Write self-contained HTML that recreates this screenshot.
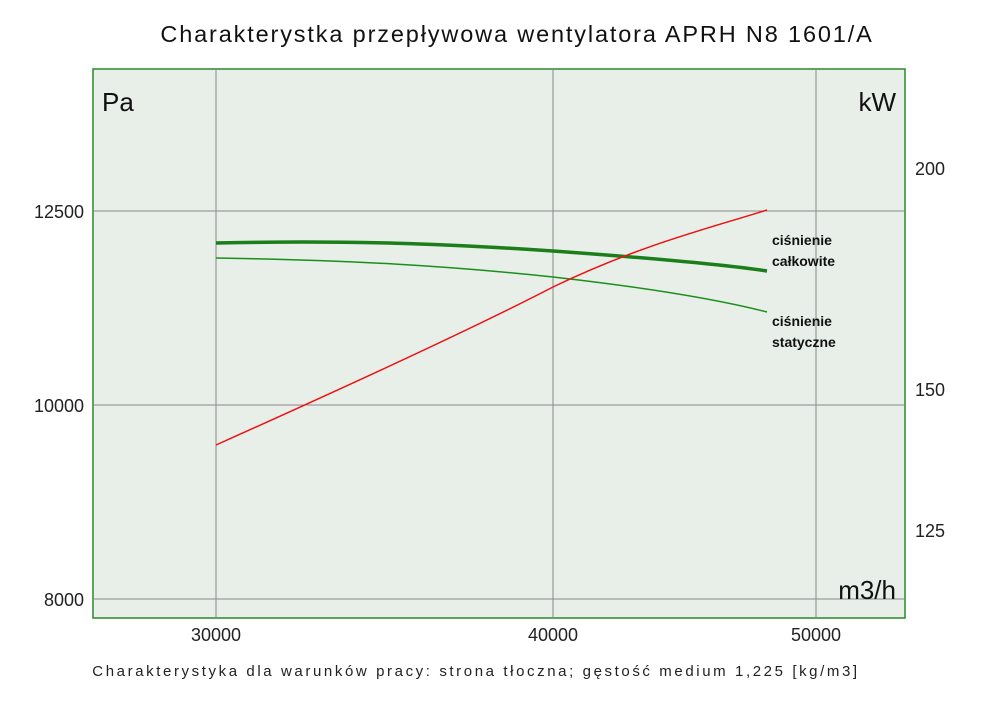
<!DOCTYPE html>
<html><head><meta charset="utf-8"><style>
body{margin:0;background:#fff;}
svg text{font-family:"Liberation Sans",sans-serif;}
</style></head><body>
<svg width="1000" height="706" xmlns="http://www.w3.org/2000/svg">
<rect width="1000" height="706" fill="#fff"/>
<text x="517" y="42" font-size="23.5" text-anchor="middle" fill="#111" letter-spacing="1.85">Charakterystka przepływowa wentylatora APRH N8 1601/A</text>
<rect x="93" y="69" width="812" height="549" fill="#e8eee8" stroke="#2a8a2a" stroke-width="1.5"/>
<g stroke="#888" stroke-width="1">
<line x1="216" y1="69" x2="216" y2="618"/>
<line x1="553" y1="69" x2="553" y2="618"/>
<line x1="816" y1="69" x2="816" y2="618"/>
<line x1="93" y1="211" x2="905" y2="211"/>
<line x1="93" y1="405" x2="905" y2="405"/>
<line x1="93" y1="599" x2="905" y2="599"/>
</g>
<text x="102" y="111" font-size="26" fill="#111">Pa</text>
<text x="896" y="111" font-size="26" fill="#111" text-anchor="end">kW</text>
<text x="896" y="599" font-size="26" fill="#111" text-anchor="end">m3/h</text>
<g font-size="18" fill="#222">
<text x="84" y="218" text-anchor="end">12500</text>
<text x="84" y="412" text-anchor="end">10000</text>
<text x="84" y="606" text-anchor="end">8000</text>
<text x="915" y="175">200</text>
<text x="915" y="396">150</text>
<text x="915" y="537">125</text>
<text x="216" y="641" text-anchor="middle">30000</text>
<text x="553" y="641" text-anchor="middle">40000</text>
<text x="816" y="641" text-anchor="middle">50000</text>
</g>
<path d="M216,243 C350,240 450,244 553,251 C650,258 720,264 767,271" fill="none" stroke="#1a7f1a" stroke-width="3.5"/>
<path d="M216,258 C350,260 450,266 553,277 C650,288 720,300 767,312" fill="none" stroke="#1a8f1a" stroke-width="1.5"/>
<path d="M216,445 C350,385 470,330 553,287 C640,245 710,228 767,210" fill="none" stroke="#ee1111" stroke-width="1.5"/>
<g font-size="14" font-weight="bold" fill="#111">
<text x="772" y="245">ciśnienie</text>
<text x="772" y="266">całkowite</text>
<text x="772" y="326">ciśnienie</text>
<text x="772" y="347">statyczne</text>
</g>
<text x="476" y="676" font-size="15" fill="#222" text-anchor="middle" letter-spacing="2.6">Charakterystyka dla warunków pracy: strona tłoczna; gęstość medium 1,225 [kg/m3]</text>
</svg>
</body></html>
